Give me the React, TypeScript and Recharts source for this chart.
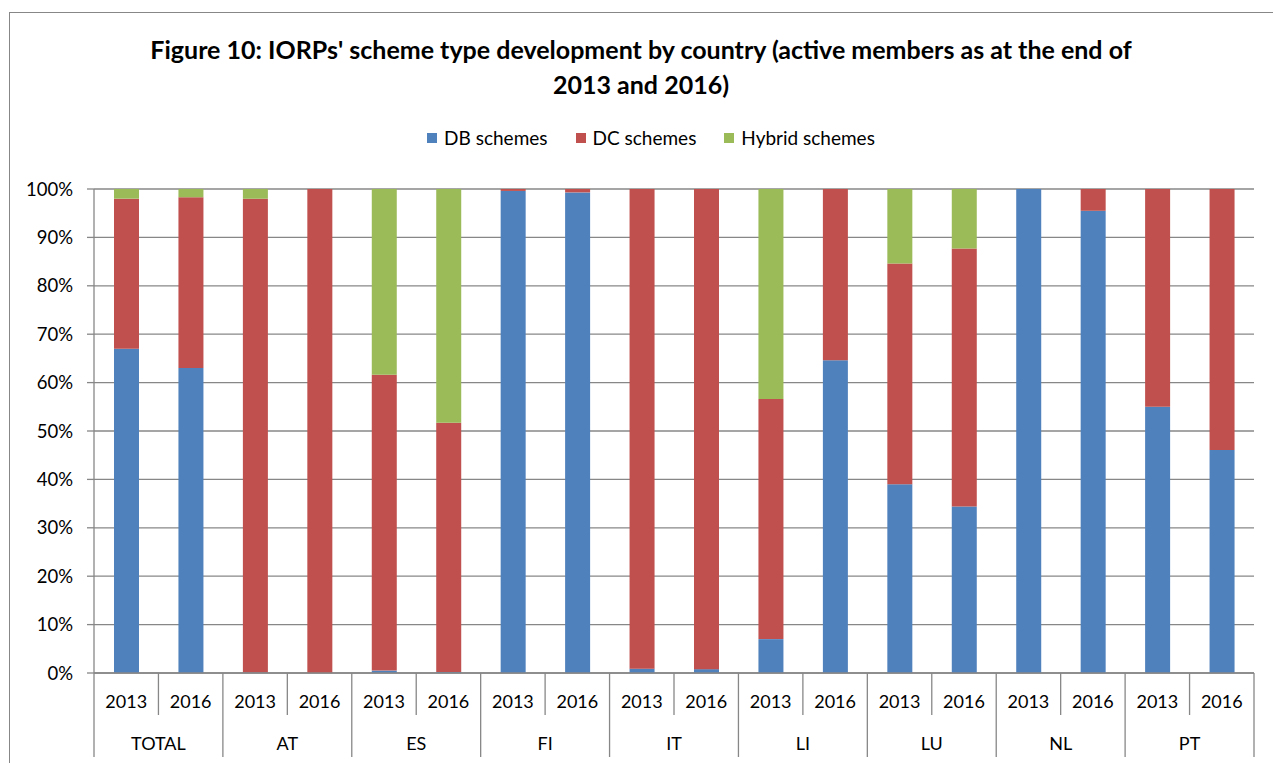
import React from "react";
import { BarChart, Bar, XAxis, YAxis, CartesianGrid } from "recharts";

const countries = ["TOTAL", "AT", "ES", "FI", "IT", "LI", "LU", "NL", "PT"];
const years = ["2013", "2016"];

// share of active members, % (2013, 2016 per country)
const dbValues = [67, 63, 0.1, 0, 0.5, 0.2, 99.6, 99.3, 0.9, 0.8, 7.0, 64.6, 39.0, 34.4, 100, 95.5, 55.0, 46.1];
const dcValues = [31, 35.3, 97.9, 100, 61.1, 51.5, 0.4, 0.7, 99.1, 99.2, 49.6, 35.4, 45.6, 53.3, 0, 4.5, 45.0, 53.9];
const hybridValues = [2, 1.7, 2, 0, 38.4, 48.3, 0, 0, 0, 0, 43.4, 0, 15.4, 12.3, 0, 0, 0, 0];

const yTicks = [0, 10, 20, 30, 40, 50, 60, 70, 80, 90, 100];

const data = dbValues.map((v, i) => ({
  key: `${countries[Math.floor(i / 2)]}-${years[i % 2]}`,
  year: years[i % 2],
  country: countries[Math.floor(i / 2)],
  db: v,
  dc: dcValues[i],
  hybrid: hybridValues[i],
}));

const W = 1273;
const H = 763;
const PLOT_LEFT = 94;
const PLOT_RIGHT = 1254;
const PLOT_TOP = 189;
const PLOT_BOTTOM = 673;
const BAND = (PLOT_RIGHT - PLOT_LEFT) / data.length;
const FONT = "Lato, 'Open Sans', sans-serif";
const GRID = "#878787";

const series = [
  { key: "db", name: "DB schemes", color: "#4F81BD" },
  { key: "dc", name: "DC schemes", color: "#C0504D" },
  { key: "hybrid", name: "Hybrid schemes", color: "#9BBB59" },
];

const XTick = (props: any) => {
  const { x, payload } = props;
  const i = payload.index;
  const d = data[i];
  const left = x - BAND / 2;
  return (
    <g>
      <line x1={left} y1={PLOT_BOTTOM} x2={left} y2={i % 2 === 0 ? 757 : 715} stroke={GRID} strokeWidth={1.3} />
      {i === data.length - 1 && (
        <line x1={x + BAND / 2} y1={PLOT_BOTTOM} x2={x + BAND / 2} y2={757} stroke={GRID} strokeWidth={1.3} />
      )}
      <text x={x} y={701} textAnchor="middle" dominantBaseline="central" fontSize={18} fontFamily={FONT} fill="#000">
        {d.year}
      </text>
      {i % 2 === 0 && (
        <text x={left + BAND} y={743} textAnchor="middle" dominantBaseline="central" fontSize={18} fontFamily={FONT} fill="#000">
          {d.country}
        </text>
      )}
    </g>
  );
};

export default function App() {
  return (
    <div style={{ position: "absolute", left: 0, top: 0, width: W, height: H, overflow: "hidden", background: "#fff" }}>
      <div
        style={{
          position: "absolute",
          left: 9,
          top: 12,
          width: W + 40,
          height: H + 40,
          border: `1.5px solid ${GRID}`,
        }}
      />
      <div
        style={{
          position: "absolute",
          left: 0,
          top: 32,
          width: 1282,
          textAlign: "center",
          fontFamily: FONT,
          fontWeight: 700,
          fontSize: 25,
          lineHeight: "35px",
          color: "#000",
        }}
      >
        Figure 10: IORPs' scheme type development by country (active members as at the end of
        <br />
        2013 and 2016)
      </div>
      <div
        style={{
          position: "absolute",
          left: 0,
          top: 126,
          width: 1302,
          display: "flex",
          justifyContent: "center",
          gap: 28,
          fontFamily: FONT,
          fontSize: 19,
          lineHeight: "24px",
          color: "#000",
        }}
      >
        {series.map((s) => (
          <div key={s.key} style={{ display: "flex", alignItems: "center" }}>
            <span style={{ display: "inline-block", width: 10, height: 10, background: s.color, marginRight: 7 }} />
            <span>{s.name}</span>
          </div>
        ))}
      </div>
      <div style={{ position: "absolute", left: 0, top: 0 }}>
        <BarChart
          width={W}
          height={H}
          data={data}
          margin={{ top: PLOT_TOP, right: W - PLOT_RIGHT, left: PLOT_LEFT - 60, bottom: 0 }}
          barSize={25}
        >
          <CartesianGrid vertical={false} stroke={GRID} strokeWidth={1.3} />
          <XAxis
            dataKey="key"
            height={H - PLOT_BOTTOM}
            interval={0}
            tick={<XTick />}
            tickLine={false}
            axisLine={{ stroke: GRID, strokeWidth: 1.3 }}
          />
          <YAxis
            width={60}
            domain={[0, 100]}
            ticks={yTicks}
            tickFormatter={(v: number) => `${v}%`}
            tick={{ fontSize: 18.5, fontFamily: FONT, fill: "#000" }}
            tickSize={7}
            tickMargin={14}
            tickLine={{ stroke: GRID, strokeWidth: 1.3 }}
            axisLine={{ stroke: GRID, strokeWidth: 1.3 }}
            allowDataOverflow
          />
          {series.map((s) => (
            <Bar
              key={s.key}
              dataKey={s.key}
              name={s.name}
              stackId="a"
              fill={s.color}
              isAnimationActive={false}
            />
          ))}
        </BarChart>
      </div>
    </div>
  );
}
